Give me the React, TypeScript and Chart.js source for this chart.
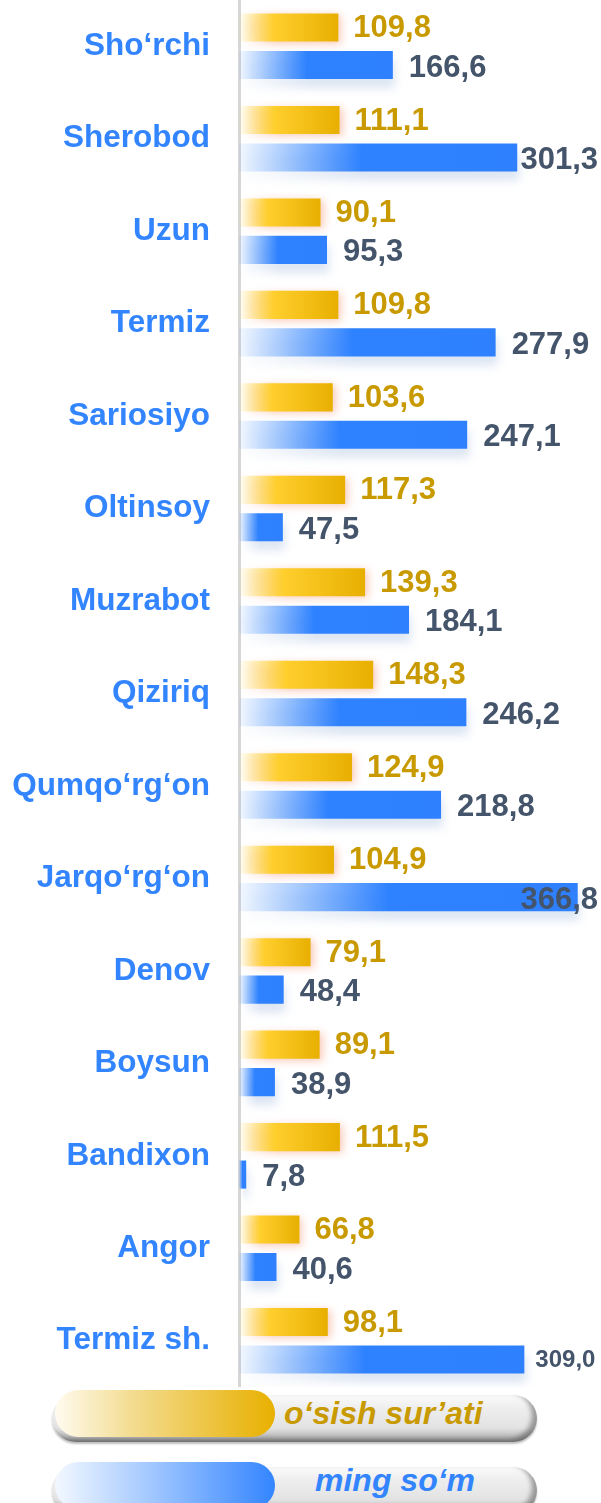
import React, { useEffect, useRef } from "react";
import { Chart, registerables } from "chart.js";

Chart.register(...registerables);

const categories = [
  "Sho‘rchi",
  "Sherobod",
  "Uzun",
  "Termiz",
  "Sariosiyo",
  "Oltinsoy",
  "Muzrabot",
  "Qiziriq",
  "Qumqo‘rg‘on",
  "Jarqo‘rg‘on",
  "Denov",
  "Boysun",
  "Bandixon",
  "Angor",
  "Termiz sh.",
];

const growthRate = [109.8, 111.1, 90.1, 109.8, 103.6, 117.3, 139.3, 148.3, 124.9, 104.9, 79.1, 89.1, 111.5, 66.8, 98.1];
const thousandSum = [166.6, 301.3, 95.3, 277.9, 247.1, 47.5, 184.1, 246.2, 218.8, 366.8, 48.4, 38.9, 7.8, 40.6, 309.0];

const seriesNames = ["o‘sish sur’ati", "ming so‘m"];

const FONT = '"Liberation Sans", Arial, Helvetica, sans-serif';
const YELLOW_TEXT = "#c99a00";
const BLUE_TEXT = "#44546a";
const CAT_BLUE = "#3385ff";

const fmt = (v: number) => v.toFixed(1).replace(".", ",");

function gradientFor(ctx: any, axisId: string, stops: [number, string][], fallback: string) {
  const chart = ctx.chart;
  if (!chart.chartArea || ctx.type !== "data") return fallback;
  const scale = chart.scales[axisId];
  if (!scale) return fallback;
  const x0 = scale.getPixelForValue(0);
  let x1 = scale.getPixelForValue(ctx.raw);
  if (!isFinite(x1) || Math.abs(x1 - x0) < 1) x1 = x0 + 1;
  const g = chart.ctx.createLinearGradient(x0, 0, x1, 0);
  stops.forEach(([o, c]) => g.addColorStop(o, c));
  return g;
}

const shadowPlugin = {
  id: "barShadow",
  beforeDatasetDraw(chart: any, args: any) {
    const c = chart.ctx;
    c.save();
    if (args.index === 0) {
      c.shadowColor = "rgba(240,110,60,0.35)";
      c.shadowBlur = 8;
      c.shadowOffsetX = 3;
      c.shadowOffsetY = 2;
    } else {
      c.shadowColor = "rgba(140,170,215,0.30)";
      c.shadowBlur = 10;
      c.shadowOffsetX = 2;
      c.shadowOffsetY = 9;
    }
  },
  afterDatasetDraw(chart: any) {
    chart.ctx.restore();
  },
};

const valueLabelPlugin = {
  id: "valueLabels",
  afterDatasetsDraw(chart: any) {
    const c = chart.ctx;
    c.save();
    c.textBaseline = "middle";
    c.textAlign = "left";
    chart.data.datasets.forEach((ds: any, di: number) => {
      const meta = chart.getDatasetMeta(di);
      meta.data.forEach((bar: any, i: number) => {
        const txt = fmt(ds.data[i]);
        if (di === 0) {
          c.font = `bold 31px ${FONT}`;
          c.fillStyle = YELLOW_TEXT;
          c.fillText(txt, bar.x + 15, bar.y + 1);
        } else {
          const small = i === categories.length - 1;
          c.font = `bold ${small ? 24 : 31}px ${FONT}`;
          c.fillStyle = BLUE_TEXT;
          const w = c.measureText(txt).width;
          let x = bar.x + (small ? 11 : 16);
          if (x + w > 598) x = 598 - w;
          c.fillText(txt, x, bar.y + (small ? 1 : 3));
        }
      });
    });
    c.restore();
  },
};

function ChartCanvas() {
  const ref = useRef<HTMLCanvasElement | null>(null);
  useEffect(() => {
    if (!ref.current) return;
    const chart = new Chart(ref.current, {
      type: "bar",
      data: {
        labels: categories,
        datasets: [
          {
            label: seriesNames[0],
            data: growthRate,
            xAxisID: "x2",
            backgroundColor: (ctx: any) =>
              gradientFor(
                ctx,
                "x2",
                [
                  [0, "rgba(255,220,80,0.04)"],
                  [0.35, "#ffcf2e"],
                  [1, "#e8af00"],
                ],
                "#f2bd10"
              ),
            borderWidth: 0,
            categoryPercentage: 0.81,
            barPercentage: 0.75,
          },
          {
            label: seriesNames[1],
            data: thousandSum,
            xAxisID: "x",
            backgroundColor: (ctx: any) =>
              gradientFor(
                ctx,
                "x",
                [
                  [0, "rgba(60,140,255,0.06)"],
                  [0.44, "#2f82ff"],
                  [1, "#2e80ff"],
                ],
                "#2e80ff"
              ),
            borderWidth: 0,
            categoryPercentage: 0.81,
            barPercentage: 0.75,
          },
        ],
      },
      options: {
        indexAxis: "y",
        responsive: false,
        maintainAspectRatio: false,
        devicePixelRatio: 1,
        animation: false,
        layout: { padding: 0 },
        plugins: {
          legend: { display: false },
          tooltip: { enabled: false },
          title: { display: false },
        },
        scales: {
          y: {
            type: "category",
            position: "left",
            grid: { display: false, drawTicks: false },
            border: { display: true, color: "#d6d6d6", width: 3 },
            ticks: {
              autoSkip: false,
              padding: 29,
              color: CAT_BLUE,
              font: { family: FONT, weight: "bold", size: 31.5 },
            },
            afterFit: (s: any) => {
              s.width = 239;
              s.paddingTop = 0;
              s.paddingBottom = 0;
            },
          },
          x: {
            type: "linear",
            display: false,
            min: 0,
            max: 392,
            grid: { display: false },
          },
          x2: {
            type: "linear",
            axis: "x",
            position: "bottom",
            display: false,
            min: 0,
            max: 400,
            grid: { display: false },
          },
        },
      } as any,
      plugins: [shadowPlugin, valueLabelPlugin],
    });
    return () => chart.destroy();
  }, []);
  return (
    <canvas
      ref={ref}
      width={601}
      height={1387}
      style={{ position: "absolute", left: 0, top: 0, width: 601, height: 1387, display: "block" }}
    />
  );
}

function LegendPill(props: {
  top: number;
  grad: string;
  text: string;
  color: string;
  textLeft: number;
  textTop: number;
}) {
  const { top, grad, text, color, textLeft, textTop } = props;
  return (
    <>
      <div
        style={{
          position: "absolute",
          left: 52,
          top: top + 5,
          width: 485,
          height: 47,
          borderRadius: 24,
          background: "linear-gradient(to bottom, #fbfbfb 0%, #ededed 30%, #e3e3e3 70%, #a3a3a3 100%)",
          boxShadow: "inset -5px -3px 5px rgba(0,0,0,0.35), 0 2px 2px rgba(0,0,0,0.25)",
        }}
      />
      <div
        style={{
          position: "absolute",
          left: 55,
          top,
          width: 220,
          height: 47,
          borderRadius: 24,
          background: grad,
        }}
      />
      <div
        style={{
          position: "absolute",
          left: textLeft,
          top: textTop,
          fontFamily: FONT,
          fontStyle: "italic",
          fontWeight: "bold",
          fontSize: 32,
          lineHeight: "34px",
          color,
          whiteSpace: "nowrap",
        }}
      >
        {text}
      </div>
    </>
  );
}

export default function App() {
  return (
    <div
      style={{
        position: "absolute",
        left: 0,
        top: 0,
        width: 601,
        height: 1503,
        overflow: "hidden",
        background: "#ffffff",
      }}
    >
      <ChartCanvas />
      <LegendPill
        top={1390}
        grad="linear-gradient(to right, #fffbf0 0%, #f3dc90 35%, #e8b000 100%)"
        text={seriesNames[0]}
        color={YELLOW_TEXT}
        textLeft={284}
        textTop={1396}
      />
      <LegendPill
        top={1462}
        grad="linear-gradient(to right, #f3f8ff 0%, #a9ccff 40%, #3385ff 100%)"
        text={seriesNames[1]}
        color={CAT_BLUE}
        textLeft={315}
        textTop={1463}
      />
    </div>
  );
}
